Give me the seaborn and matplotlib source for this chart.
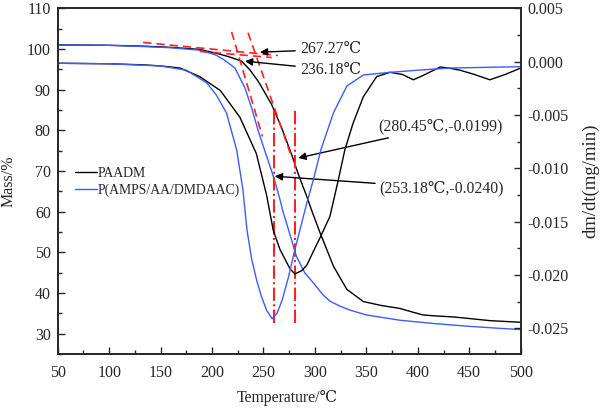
import matplotlib
matplotlib.use("Agg")
import matplotlib.pyplot as plt
import seaborn as sns
from matplotlib.ticker import MultipleLocator, FuncFormatter

# TG curves (left axis, Mass/%)
paadm_tg_t = [50, 100, 133, 160, 188, 203, 215, 228.8, 237, 245, 251, 258, 267.7, 277.4, 284,
              292, 298, 305, 318, 331, 347, 365, 382.6, 395, 405, 415, 435, 447, 470, 500]
paadm_tg_m = [101.0, 100.9, 100.7, 100.4, 99.9, 99.0, 98.2, 97.0, 94.8, 92.0, 89.4, 86.3, 80.6, 74.0, 69.1,
              63.8, 59.5, 54.8, 46.6, 40.9, 37.9, 36.9, 36.2, 35.3, 34.6, 34.4, 34.1, 33.8, 33.2, 32.8]

pamps_tg_t = [50, 100, 133, 160, 188, 203, 212, 222.3, 232, 238.5, 245, 251.5, 258, 261, 266, 269, 275,
              282, 290, 298.4, 308, 314.6, 324, 334, 350, 382.6, 415, 450, 480, 500]
pamps_tg_m = [101.0, 100.9, 100.6, 100.3, 99.7, 98.6, 97.3, 95.3, 90.4, 85.5, 79.8, 74.8, 69.9, 67.5, 63.0, 60.0, 55.0,
              49.0, 45.0, 42.5, 39.5, 38.0, 36.8, 35.8, 34.6, 33.3, 32.5, 31.8, 31.3, 31.0]

# DTG curves (right axis, dm/dt)
paadm_dtg_t = [50, 100, 133, 150, 169, 188, 208, 227, 243, 253, 259.5, 266, 275.7, 280.5, 287, 292, 298.4,
               305, 314.6, 322.7, 329, 337, 347, 360, 373, 385, 395.6, 405, 421.8, 430, 441, 455, 470, 485, 500]
paadm_dtg_d = [-0.00015, -0.0002, -0.0003, -0.0004, -0.0006, -0.0014, -0.0027, -0.0052, -0.0086, -0.0125,
               -0.0158, -0.0176, -0.0194, -0.0199, -0.0196, -0.0191, -0.0178, -0.0165, -0.0145, -0.0111,
               -0.0083, -0.0058, -0.0033, -0.0014, -0.0010, -0.0012, -0.0017, -0.0013, -0.0005, -0.0006,
               -0.0008, -0.0012, -0.0017, -0.0012, -0.0006]

pamps_dtg_t = [50, 100, 149.5, 175, 195, 204, 214, 224, 230, 234, 238.5, 243.4, 248, 253, 258.5, 263, 268,
               274, 280.6, 292, 298.4, 306, 318, 331, 347, 373, 400, 431, 500]
pamps_dtg_d = [-0.00015, -0.0002, -0.0004, -0.0008, -0.0020, -0.0031, -0.0048, -0.0083, -0.0120, -0.0158,
               -0.0185, -0.0205, -0.0220, -0.0233, -0.0241, -0.0236, -0.0224, -0.0203, -0.0176, -0.0133,
               -0.0111, -0.0082, -0.0048, -0.0023, -0.00125, -0.0010, -0.0008, -0.0006, -0.00047]

# red construction lines (Temperature, Mass)
base1_t, base1_m = [133, 264], [101.6, 98.4]
base2_t, base2_m = [188, 258], [99.4, 97.9]
tan_a_t, tan_a_m = [219, 249], [104.2, 78.5]
tan_b_t, tan_b_m = [235, 276], [104.0, 74.4]
peak_t = [260, 280.45]
peak_m = [85.5, 32.7]

sns.set_style("ticks")
plt.rcParams['font.family'] = ['Liberation Serif', 'DejaVu Serif']
plt.rcParams['axes.unicode_minus'] = False
plt.rcParams['font.size'] = 11

fig = plt.figure(figsize=(6, 4.09), dpi=100)
ax = fig.add_axes([0.0962, 0.1345, 0.7716, 0.8452])
ax2 = ax.twinx()

black = '#000000'
blue = '#3b5bfd'
red = '#ff2020'

sns.lineplot(x=paadm_tg_t, y=paadm_tg_m, ax=ax, color=black, lw=1.0, label='PAADM')
sns.lineplot(x=pamps_tg_t, y=pamps_tg_m, ax=ax, color=blue, lw=1.0, label='P(AMPS/AA/DMDAAC)')
sns.lineplot(x=paadm_dtg_t, y=paadm_dtg_d, ax=ax2, color=black, lw=1.0, legend=False)
sns.lineplot(x=pamps_dtg_t, y=pamps_dtg_d, ax=ax2, color=blue, lw=1.0, legend=False)

for xs, ys in [(base1_t, base1_m), (base2_t, base2_m), (tan_a_t, tan_a_m), (tan_b_t, tan_b_m)]:
    ax.plot(xs, ys, color=red, lw=1.2, ls=(0, (5, 3)))
ax.vlines(peak_t, peak_m[1], peak_m[0], color=red, lw=1.5, ls='-.')

ax.set_xlim(50, 500)
ax.set_ylim(25, 110)
ax2.set_ylim(-0.0274, 0.005)

ax.xaxis.set_major_locator(MultipleLocator(50))
ax.xaxis.set_minor_locator(MultipleLocator(25))
ax.yaxis.set_major_locator(MultipleLocator(10))
ax.yaxis.set_minor_locator(MultipleLocator(5))
ax2.yaxis.set_major_locator(MultipleLocator(0.005))
ax2.yaxis.set_minor_locator(MultipleLocator(0.0025))
ax2.yaxis.set_major_formatter(FuncFormatter(lambda v, p: f"{round(v, 4) + 0.0:.3f}"))

ax.tick_params(axis='both', which='both', direction='in', top=False, right=False, labelsize=11.5, pad=5)
ax.tick_params(axis='x', which='both', pad=8)
ax.tick_params(which='major', length=5, width=1)
ax.tick_params(which='minor', length=3, width=1)
ax2.tick_params(axis='y', which='both', direction='in', labelsize=11.5, pad=5)
ax2.tick_params(which='major', length=5, width=1)
ax2.tick_params(which='minor', length=3, width=1)
for a in (ax, ax2):
    for s in a.spines.values():
        s.set_linewidth(1.2)
        s.set_visible(True)

ax.set_xlabel('Temperature/℃', fontsize=11.3)
ax.set_ylabel('Mass/%', fontsize=11.5)
ax2.set_ylabel('dm/dt(mg/min)', fontsize=13.5)
ax.xaxis.set_label_coords(0.497, -0.104)
ax.yaxis.set_label_coords(-0.088, 0.5)
ax2.yaxis.set_label_coords(1.132, 0.5)

arrow = dict(arrowstyle='-|>', color='black', lw=1.0, mutation_scale=11, shrinkA=1, shrinkB=0)
ax.annotate('267.27℃', xy=(246.5, 99.2), xytext=(285.4, 99.9), ha='left', va='center', fontsize=11.3, arrowprops=arrow)
ax.annotate('236.18℃', xy=(232, 97.0), xytext=(285.4, 94.9), ha='left', va='center', fontsize=11.3, arrowprops=arrow)
ax.annotate('(280.45℃,-0.0199)', xy=(283.8, 73.2), xytext=(361.3, 81.0), ha='left', va='center', fontsize=11.3, arrowprops=arrow)
ax.annotate('(253.18℃,-0.0240)', xy=(261, 68.7), xytext=(363, 65.8), ha='left', va='center', fontsize=11.3, arrowprops=arrow)

ax.legend(loc='upper left', bbox_to_anchor=(0.026, 0.558), frameon=False, handlelength=1.6,
          handletextpad=0.05, labelspacing=0.3, fontsize=9.9, borderaxespad=0)

fig.savefig('out.png', dpi=100)
